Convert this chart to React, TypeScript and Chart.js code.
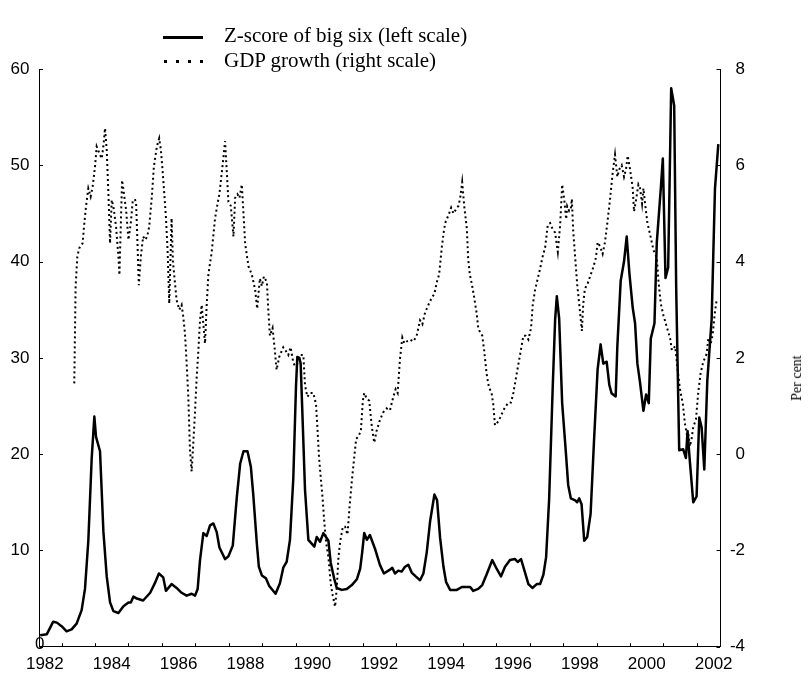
import React, { useEffect, useRef } from "react";
import { Chart, registerables } from "chart.js";

Chart.register(...registerables);

// ---- Data (decimal years; labels sit on whole years) ----
const zScoreYears = [
  1981.86, 1982.06, 1982.25, 1982.36, 1982.51, 1982.65, 1982.8, 1982.95, 1983.1, 1983.2,
  1983.3, 1983.4, 1983.48, 1983.53, 1983.65, 1983.75, 1983.85, 1983.95, 1984.05, 1984.2,
  1984.35, 1984.5, 1984.57, 1984.65, 1984.75, 1984.94, 1985.15, 1985.29, 1985.41, 1985.54,
  1985.62, 1985.79, 1985.94, 1986.09, 1986.24, 1986.39, 1986.49, 1986.57, 1986.64, 1986.74,
  1986.84, 1986.94, 1987.04, 1987.14, 1987.22, 1987.39, 1987.49, 1987.62, 1987.74, 1987.84,
  1987.94, 1988.06, 1988.16, 1988.23, 1988.34, 1988.4, 1988.49, 1988.61, 1988.71, 1988.9,
  1989.03, 1989.13, 1989.23, 1989.33, 1989.43, 1989.51, 1989.55, 1989.61, 1989.65, 1989.71,
  1989.78, 1989.88, 1989.98, 1990.06, 1990.13, 1990.23, 1990.33, 1990.48, 1990.55, 1990.65,
  1990.73, 1990.88, 1991.03, 1991.18, 1991.33, 1991.43, 1991.49, 1991.55, 1991.63, 1991.72,
  1991.87, 1992.02, 1992.14, 1992.32, 1992.39, 1992.47, 1992.57, 1992.67, 1992.77, 1992.87,
  1992.97, 1993.09, 1993.22, 1993.32, 1993.42, 1993.52, 1993.65, 1993.73, 1993.82, 1993.92,
  1994.0, 1994.12, 1994.32, 1994.47, 1994.72, 1994.81, 1994.96, 1995.08, 1995.21, 1995.38,
  1995.51, 1995.64, 1995.76, 1995.91, 1996.06, 1996.14, 1996.24, 1996.36, 1996.46, 1996.58,
  1996.71, 1996.81, 1996.91, 1996.99, 1997.08, 1997.19, 1997.26, 1997.31, 1997.38, 1997.47,
  1997.58, 1997.65, 1997.73, 1997.86, 1997.92, 1997.98, 1998.05, 1998.13, 1998.22, 1998.32,
  1998.42, 1998.53, 1998.62, 1998.7, 1998.8, 1998.88, 1998.95, 1999.07, 1999.12, 1999.22,
  1999.32, 1999.4, 1999.48, 1999.58, 1999.65, 1999.72, 1999.8, 1999.9, 1999.98, 2000.06,
  2000.12, 2000.23, 2000.3, 2000.42, 2000.48, 2000.56, 2000.64, 2000.73, 2000.82, 2000.88,
  2000.97, 2001.09, 2001.17, 2001.22, 2001.29, 2001.39, 2001.49, 2001.57, 2001.64, 2001.72,
  2001.81, 2001.94, 2002.04, 2002.14,
];
const zScoreValues = [
  1.2, 1.3, 2.6, 2.5, 2.1, 1.6, 1.8, 2.4, 3.8, 6.0,
  11, 19.5, 23.9, 21.8, 20.3, 12, 7.3, 4.6, 3.7, 3.5,
  4.2, 4.6, 4.6, 5.2, 5.0, 4.8, 5.6, 6.6, 7.6, 7.2,
  5.8, 6.5, 6.1, 5.6, 5.3, 5.5, 5.3, 6.0, 9.0, 11.8,
  11.5, 12.6, 12.8, 11.9, 10.3, 9.1, 9.4, 10.5, 15.5, 19.0,
  20.3, 20.3, 18.7, 15.9, 10.7, 8.3, 7.4, 7.1, 6.3, 5.5,
  6.6, 8.2, 8.8, 11.1, 17.5, 27, 30.1, 30.0, 29.4, 23.4,
  16.3, 11.1, 10.7, 10.4, 11.4, 10.9, 11.8, 11.0, 8.7, 7.1,
  6.1, 5.9, 6.0, 6.4, 7.0, 8.1, 9.8, 11.8, 11.1, 11.6,
  10.2, 8.5, 7.6, 8.0, 8.2, 7.6, 7.9, 7.8, 8.3, 8.5,
  7.7, 7.3, 6.9, 7.6, 9.8, 13.0, 15.8, 15.2, 11.3, 8.3,
  6.7, 5.9, 5.9, 6.2, 6.2, 5.8, 6.0, 6.4, 7.5, 9.0,
  8.1, 7.3, 8.3, 9.0, 9.1, 8.8, 9.1, 7.7, 6.5, 6.1,
  6.5, 6.5, 7.5, 9.3, 15.3, 27.2, 34, 36.4, 34.1, 25.3,
  20.2, 16.8, 15.4, 15.2, 15.0, 15.4, 14.8, 11.0, 11.4, 13.8,
  21.2, 28.8, 31.4, 29.4, 29.6, 27.2, 26.3, 26.0, 31.2, 38.0,
  40.0, 42.6, 38.8, 35.2, 33.6, 29.4, 27.4, 24.5, 26.2, 25.3,
  32.0, 33.6, 42.0, 47.6, 50.7, 38.3, 39.4, 58.0, 56.2, 37.2,
  20.4, 20.5, 19.6, 22.4, 19.2, 15.0, 15.6, 23.8, 22.8, 18.4,
  27.6, 34.0, 47.6, 52.2,
];

const gdpYears = [
  1982.88, 1982.92, 1982.97, 1983.03, 1983.13, 1983.17, 1983.23, 1983.3, 1983.37, 1983.43,
  1983.5, 1983.55, 1983.63, 1983.7, 1983.75, 1983.8, 1983.85, 1983.9, 1983.95, 1984.0,
  1984.05, 1984.13, 1984.2, 1984.23, 1984.27, 1984.31, 1984.35, 1984.43, 1984.5, 1984.57,
  1984.63, 1984.7, 1984.73, 1984.77, 1984.81, 1984.87, 1984.94, 1985.0, 1985.06, 1985.12,
  1985.2, 1985.26, 1985.35, 1985.42, 1985.47, 1985.52, 1985.57, 1985.62, 1985.67, 1985.72,
  1985.79, 1985.83, 1985.94, 1986.02, 1986.09, 1986.14, 1986.19, 1986.24, 1986.29, 1986.34,
  1986.39, 1986.44, 1986.49, 1986.54, 1986.59, 1986.64, 1986.69, 1986.74, 1986.79, 1986.84,
  1986.89, 1986.99, 1987.09, 1987.19, 1987.22, 1987.32, 1987.39, 1987.44, 1987.49, 1987.56,
  1987.64, 1987.69, 1987.76, 1987.82, 1987.89, 1987.94, 1987.99, 1988.09, 1988.19, 1988.29,
  1988.35, 1988.43, 1988.49, 1988.55, 1988.64, 1988.68, 1988.73, 1988.81, 1988.88, 1988.93,
  1989.01, 1989.08, 1989.13, 1989.21, 1989.28, 1989.35, 1989.43, 1989.48, 1989.58, 1989.68,
  1989.73, 1989.78, 1989.85, 1989.93, 1990.03, 1990.11, 1990.15, 1990.2, 1990.26, 1990.31,
  1990.35, 1990.41, 1990.48, 1990.55, 1990.61, 1990.68, 1990.73, 1990.78, 1990.83, 1990.91,
  1990.98, 1991.05, 1991.11, 1991.18, 1991.25, 1991.31, 1991.37, 1991.45, 1991.51, 1991.55,
  1991.63, 1991.7, 1991.78, 1991.85, 1991.92, 1992.02, 1992.12, 1992.22, 1992.32, 1992.42,
  1992.49, 1992.55, 1992.62, 1992.69, 1992.75, 1992.82, 1992.92, 1993.02, 1993.12, 1993.22,
  1993.29, 1993.37, 1993.47, 1993.57, 1993.65, 1993.72, 1993.79, 1993.87, 1993.94, 1993.99,
  1994.07, 1994.15, 1994.22, 1994.29, 1994.37, 1994.42, 1994.48, 1994.54, 1994.62, 1994.66,
  1994.71, 1994.78, 1994.84, 1994.91, 1994.96, 1995.01, 1995.08, 1995.14, 1995.21, 1995.28,
  1995.36, 1995.41, 1995.46, 1995.51, 1995.58, 1995.64, 1995.71, 1995.78, 1995.86, 1995.94,
  1996.01, 1996.11, 1996.21, 1996.31, 1996.38, 1996.46, 1996.54, 1996.59, 1996.66, 1996.74,
  1996.81, 1996.88, 1996.96, 1997.04, 1997.11, 1997.18, 1997.26, 1997.34, 1997.41, 1997.47,
  1997.53, 1997.59, 1997.62, 1997.68, 1997.73, 1997.76, 1997.8, 1997.86, 1997.92, 1997.98,
  1998.06, 1998.1, 1998.15, 1998.22, 1998.3, 1998.4, 1998.48, 1998.53, 1998.6, 1998.68,
  1998.75, 1998.82, 1998.9, 1998.98, 1999.05, 1999.12, 1999.18, 1999.25, 1999.32, 1999.38,
  1999.43, 1999.5, 1999.58, 1999.62, 1999.68, 1999.75, 1999.8, 1999.86, 1999.9, 1999.95,
  2000.02, 2000.1, 2000.2, 2000.3, 2000.35, 2000.42, 2000.5, 2000.6, 2000.7, 2000.75,
  2000.85, 2000.91, 2000.99, 2001.08, 2001.14, 2001.2, 2001.24, 2001.29, 2001.34, 2001.39,
  2001.47, 2001.54, 2001.61, 2001.69, 2001.79, 2001.84, 2001.91, 2001.97, 2002.04, 2002.09,
];
const gdpValues = [
  1.47, 3.48, 4.1, 4.28, 4.38, 4.72, 5.14, 5.52, 5.35, 5.56,
  5.97, 6.39, 6.25, 6.14, 6.39, 6.77, 6.32, 5.42, 4.38, 5.28,
  5.14, 4.72, 4.1, 3.72, 4.72, 5.69, 5.49, 5.07, 4.45, 4.8,
  5.28, 5.28, 5.2, 4.38, 3.51, 4.1, 4.52, 4.45, 4.52, 4.72,
  5.35, 5.97, 6.39, 6.56, 6.32, 5.9, 5.42, 4.93, 4.24, 3.13,
  4.9, 4.0, 3.2, 3.0, 3.1, 2.85, 2.51, 1.89, 1.19, 0.08,
  -0.36, 0.24, 0.87, 1.59, 2.14, 2.78, 3.1, 2.7, 2.3, 3.1,
  3.73, 4.2, 4.9, 5.3, 5.4, 6.03, 6.5, 5.87, 5.24, 5.16,
  4.52, 5.32, 5.4, 5.32, 5.6, 5.0, 4.37, 3.9, 3.73, 3.41,
  3.02, 3.65, 3.49, 3.69, 3.57, 3.02, 2.46, 2.62, 2.14, 1.75,
  2.02, 2.14, 2.22, 2.14, 2.06, 2.22, 1.9, 1.83, 1.9, 2.06,
  2.06, 1.43, 1.19, 1.27, 1.27, 1.03, 0.56, -0.08, -0.56, -0.95,
  -1.35, -1.83, -2.14, -2.7, -2.94, -3.17, -2.78, -2.14, -1.83, -1.51,
  -1.51, -1.67, -1.11, -0.56, -0.08, 0.32, 0.36, 0.48, 1.11, 1.27,
  1.15, 1.11, 0.56, 0.24, 0.48, 0.71, 0.87, 0.95, 0.91, 1.19,
  1.35, 1.27, 1.98, 2.42, 2.3, 2.34, 2.38, 2.34, 2.46, 2.78,
  2.7, 2.94, 3.1, 3.25, 3.33, 3.57, 3.73, 4.29, 4.68, 4.84,
  4.96, 5.12, 5.0, 5.08, 5.16, 5.32, 5.65, 5.16, 4.68, 4.05,
  3.73, 3.49, 3.25, 2.94, 2.62, 2.54, 2.46, 2.14, 1.67, 1.39,
  1.27, 1.03, 0.6, 0.63, 0.71, 0.79, 0.91, 0.99, 1.07, 1.07,
  1.27, 1.67, 2.06, 2.46, 2.46, 2.38, 2.62, 3.1, 3.41, 3.65,
  3.85, 4.09, 4.29, 4.76, 4.8, 4.68, 4.6, 4.2, 4.76, 5.6,
  5.3, 4.88, 5.15, 5.05, 5.1, 5.3, 4.64, 4.08, 3.52, 3.12,
  2.56, 3.12, 3.44, 3.52, 3.68, 3.88, 4.08, 4.4, 4.32, 4.16,
  4.4, 4.8, 5.28, 5.84, 6.22, 5.76, 5.92, 6.0, 5.76, 5.92,
  6.2, 5.92, 5.52, 5.04, 5.28, 5.6, 5.52, 5.2, 5.52, 5.2,
  4.8, 4.56, 4.24, 4.08, 3.6, 3.12, 2.88, 2.64, 2.4, 2.16,
  2.24, 1.84, 1.36, 1.04, 0.64, 0.4, 0.44, 0.16, 0.32, 0.56,
  0.72, 1.28, 1.68, 1.92, 2.08, 2.4, 2.28, 2.48, 2.96, 3.2,
];

const xLabelYears = [1982, 1984, 1986, 1988, 1990, 1992, 1994, 1996, 1998, 2000, 2002];
const xTickMarks = [
  1982.5, 1983.5, 1984.5, 1985.5, 1986.5, 1987.5, 1988.5, 1989.5, 1990.5, 1991.5,
  1992.5, 1993.5, 1994.5, 1995.5, 1996.5, 1997.5, 1998.5, 1999.5, 2000.5, 2001.5,
];
const leftTicks = [0, 10, 20, 30, 40, 50, 60];
const rightTicks = [-4, -2, 0, 2, 4, 6, 8];

const seriesLabels = ["Z-score of big six (left scale)", "GDP growth (right scale)"];

const tickFont = { family: "'Liberation Sans', Arial, sans-serif", size: 17 };

const tickMarksPlugin = {
  id: "tickMarks",
  afterDraw(chart: any) {
    const ctx = chart.ctx;
    const { left, right, bottom } = chart.chartArea;
    const xs = chart.scales.x;
    const yl = chart.scales.yLeft;
    const yr = chart.scales.yRight;
    const len = 3.5;
    ctx.save();
    ctx.strokeStyle = "#000";
    ctx.lineWidth = 1;
    ctx.beginPath();
    leftTicks.forEach((v) => {
      const y = Math.round(yl.getPixelForValue(v)) + 0.5;
      ctx.moveTo(left, y);
      ctx.lineTo(left + len, y);
    });
    rightTicks.forEach((v) => {
      const y = Math.round(yr.getPixelForValue(v)) + 0.5;
      ctx.moveTo(right, y);
      ctx.lineTo(right - len, y);
    });
    xTickMarks.forEach((v) => {
      const x = Math.round(xs.getPixelForValue(v)) + 0.5;
      ctx.moveTo(x, bottom);
      ctx.lineTo(x, bottom - len);
    });
    ctx.stroke();
    // zero label of the left scale sits tucked into the corner
    ctx.fillStyle = "#000";
    ctx.font = `${tickFont.size}px ${tickFont.family}`;
    ctx.textAlign = "right";
    ctx.textBaseline = "middle";
    ctx.fillText("0", left + 5, yl.getPixelForValue(0) - 2);
    ctx.restore();
  },
};

export default function App() {
  const canvasRef = useRef<HTMLCanvasElement | null>(null);

  useEffect(() => {
    const canvas = canvasRef.current;
    if (!canvas) return;
    const zPoints = zScoreYears.map((x, i) => ({ x, y: zScoreValues[i] }));
    const gPoints = gdpYears.map((x, i) => ({ x, y: gdpValues[i] }));
    const chart = new Chart(canvas, {
      type: "line",
      data: {
        datasets: [
          {
            label: seriesLabels[0],
            data: zPoints,
            yAxisID: "yLeft",
            borderColor: "#000",
            borderWidth: 2.5,
            pointRadius: 0,
            tension: 0,
            borderJoinStyle: "round",
          },
          {
            label: seriesLabels[1],
            data: gPoints,
            yAxisID: "yRight",
            borderColor: "#000",
            borderWidth: 2,
            borderDash: [2, 3],
            borderCapStyle: "butt",
            pointRadius: 0,
            tension: 0,
          },
        ],
      },
      options: {
        animation: false,
        responsive: false,
        devicePixelRatio: 1,
        layout: { padding: { top: 69, right: 65, left: 0, bottom: 0 } },
        plugins: { legend: { display: false }, tooltip: { enabled: false }, title: { display: false } },
        scales: {
          x: {
            type: "linear",
            position: "bottom",
            min: 1981.84,
            max: 2002.19,
            grid: { display: false, drawTicks: false },
            border: { display: true, color: "#000", width: 1 },
            ticks: {
              autoSkip: false,
              maxRotation: 0,
              minRotation: 0,
              padding: 7,
              color: "#000",
              font: tickFont,
              callback: (v: any) => String(v),
            },
            afterBuildTicks: (s: any) => {
              s.ticks = xLabelYears.map((v) => ({ value: v }));
            },
            afterFit: (s: any) => {
              s.height = 26.3;
            },
          },
          yLeft: {
            type: "linear",
            position: "left",
            min: 0,
            max: 60,
            grid: { display: false, drawTicks: false },
            border: { display: true, color: "#000", width: 1 },
            ticks: {
              stepSize: 10,
              padding: 10,
              color: "#000",
              font: tickFont,
              callback: (v: any) => (v === 0 ? "" : String(v)),
            },
            afterBuildTicks: (s: any) => {
              s.ticks = leftTicks.map((v) => ({ value: v }));
            },
            afterFit: (s: any) => {
              s.width = 39.5;
            },
          },
          yRight: {
            type: "linear",
            position: "right",
            min: -4,
            max: 8,
            grid: { display: false, drawTicks: false },
            border: { display: true, color: "#000", width: 1 },
            ticks: {
              stepSize: 2,
              padding: 8,
              crossAlign: "far",
              color: "#000",
              font: tickFont,
              callback: (v: any) => String(v),
            },
            afterBuildTicks: (s: any) => {
              s.ticks = rightTicks.map((v) => ({ value: v }));
            },
            afterFit: (s: any) => {
              s.width = 25;
            },
          },
        },
      },
      plugins: [tickMarksPlugin],
    } as any);
    return () => chart.destroy();
  }, []);

  const serif = "'Liberation Serif', 'Times New Roman', serif";
  return (
    <div style={{ position: "absolute", left: 0, top: 0, width: 810, height: 673, background: "#fff" }}>
      <canvas ref={canvasRef} width={810} height={673} style={{ position: "absolute", left: 0, top: 0 }} />
      {/* legend */}
      <div style={{ position: "absolute", left: 163, top: 35.5, width: 40, height: 3, background: "#000" }} />
      {[164, 176, 188, 200].map((l) => (
        <div key={l} style={{ position: "absolute", left: l, top: 59.5, width: 3, height: 3, background: "#000" }} />
      ))}
      <div style={{ position: "absolute", left: 224, top: 23, fontFamily: serif, fontSize: 21, lineHeight: "24px", whiteSpace: "nowrap", color: "#000" }}>
        {seriesLabels[0]}
      </div>
      <div style={{ position: "absolute", left: 224, top: 48, fontFamily: serif, fontSize: 21, lineHeight: "24px", whiteSpace: "nowrap", color: "#000" }}>
        {seriesLabels[1]}
      </div>
      <div
        style={{
          position: "absolute",
          left: 797,
          top: 378,
          transform: "translate(-50%, -50%) rotate(-90deg)",
          fontFamily: serif,
          fontSize: 14,
          whiteSpace: "nowrap",
          color: "#000",
        }}
      >
        Per cent
      </div>
    </div>
  );
}
